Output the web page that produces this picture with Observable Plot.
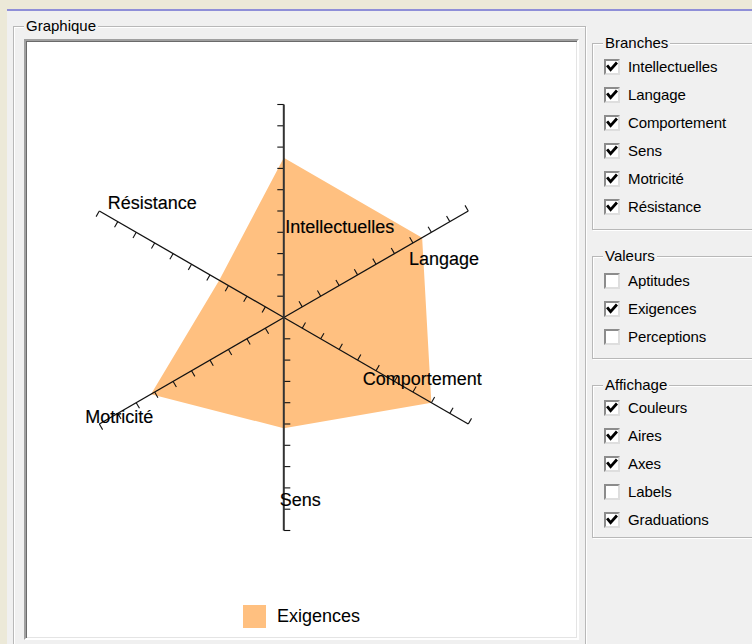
<!DOCTYPE html>
<html><head><meta charset="utf-8">
<script src="https://cdn.jsdelivr.net/npm/d3@7"></script>
<script src="https://cdn.jsdelivr.net/npm/@observablehq/plot@0.6"></script>
<style>
html,body{margin:0;padding:0;}
body{width:752px;height:644px;overflow:hidden;position:relative;background:#F0F0F0;font-family:"Liberation Sans",Arial,sans-serif;color:#000;}
.strip-left{position:absolute;left:0;top:0;width:7px;height:644px;background:#ECE9D8;}
.strip-top{position:absolute;left:0;top:0;width:752px;height:9px;background:#ECE9D8;}
.purple{position:absolute;left:7px;top:9px;width:745px;height:2px;background:#8F8FD8;}
.group{position:absolute;border:1px solid #b8b8b8;box-shadow:1px 1px 0 #fff, inset 1px 1px 0 #fff;}
.gtitle{position:absolute;top:-10px;left:10px;padding:0 2px;background:#F0F0F0;font-size:15px;line-height:18px;white-space:nowrap;}
.row{position:absolute;left:0;height:18px;white-space:nowrap;}
.cb{position:absolute;left:11px;top:1px;width:12px;height:12px;background:#fff;border-style:solid;border-width:2px;border-color:#8c8c8c #dedede #dedede #8c8c8c;}
.cb svg{position:absolute;left:0;top:0;}
.lbl{position:absolute;left:35px;top:0;font-size:15px;line-height:18px;letter-spacing:-0.1px;}
#white{position:absolute;left:24px;top:39px;width:551px;height:597px;background:#fff;border-style:solid;border-width:2px;border-color:#a0a0a0 #fff #fff #a0a0a0;box-shadow:inset 1px 1px 0 #6a6a6a, inset -1px -1px 0 #e4e4e4;}
#chart{position:absolute;left:0;top:0;}
#legend{position:absolute;left:217px;top:564px;height:23px;white-space:nowrap;}
#legend .sw{position:absolute;left:0;top:0;width:23px;height:23px;}
#legend .tx{position:absolute;left:34px;top:0;font-size:18px;line-height:23px;}
</style>
</head><body>
<div class="strip-top"></div>
<div class="strip-left"></div>
<div class="purple"></div>
<div class="group" style="left:13px;top:26px;width:571px;height:640px;"><div class="gtitle">Graphique</div></div>
<div id="white"><div id="chart"></div><div id="legend"></div></div>
<div id="panel"></div>
<script>
// ---- chart data ----
const branches = ["Intellectuelles", "Langage", "Comportement", "Sens", "Motricité", "Résistance"];
const exigences = [7.5, 7.5, 8, 5.2, 7.2, 3.5];
const serieName = "Exigences";
const graduations = [1, 2, 3, 4, 5, 6, 7, 8, 9, 10];
const maxValue = 10;

// ---- styling / layout (not data) ----
const fillColor = "#FFC080";
const labelFont = "Liberation Sans, Arial, sans-serif";
const labelRadius = [4.25, 7, 4.5, 8.5, 10, 9];
const labelDx = [1.5, -4, -4, -4, -14, -10];
const labelDy = [0, 16.7, 14.3, 1.2, -7, -18.5];
const pxPerUnit = 21.3;
const tickLen = 6.5 / pxPerUnit;

const angle = i => (90 - 60 * i) * Math.PI / 180;
const polar = (r, i) => ({x: r * Math.cos(angle(i)), y: r * Math.sin(angle(i))});

const polygon = branches.map((b, i) => ({branch: b, ...polar(exigences[i], i)}));
const axes = branches.map((b, i) => {
  const e = polar(maxValue, i);
  return {branch: b, vertical: i % 3 === 0, x1: 0, y1: 0, x2: e.x, y2: e.y};
});
const ticks = [];
branches.forEach((b, i) => {
  const a = angle(i) + Math.PI / 2;
  graduations.forEach(k => {
    const p = polar(k, i);
    ticks.push({x1: p.x, y1: p.y, x2: p.x + tickLen * Math.cos(a), y2: p.y + tickLen * Math.sin(a)});
  });
});

const W = 551, H = 560;
const cx = 257.3, cy = 276, R = 213;
const labelMarks = branches.map((b, i) => {
  const p = polar(labelRadius[i], i);
  return Plot.text([{...p, t: b}], {x: "x", y: "y", text: "t", textAnchor: "start", dx: labelDx[i], dy: labelDy[i], fontSize: 18, fontFamily: labelFont, fill: "#000", stroke: "#000", strokeWidth: 0.15});
});

const chart = Plot.plot({
  width: W, height: H,
  marginLeft: cx - R, marginRight: W - (cx + R),
  marginTop: cy - R, marginBottom: H - (cy + R),
  x: {domain: [-maxValue, maxValue], axis: null},
  y: {domain: [-maxValue, maxValue], axis: null},
  style: {background: "transparent", overflow: "visible"},
  marks: [
    Plot.line(polygon, {x: "x", y: "y", curve: "linear-closed", fill: fillColor, stroke: "none"}),
    Plot.link(ticks, {x1: "x1", y1: "y1", x2: "x2", y2: "y2", stroke: "#111", strokeWidth: 1.1}),
    Plot.link(axes.filter(d => !d.vertical), {x1: "x1", y1: "y1", x2: "x2", y2: "y2", stroke: "#111", strokeWidth: 1.3}),
    Plot.link(axes.filter(d => d.vertical), {x1: "x1", y1: "y1", x2: "x2", y2: "y2", stroke: "#333", strokeWidth: 2}),
    ...labelMarks
  ]
});
document.getElementById("chart").appendChild(chart);

const lg = document.getElementById("legend");
lg.innerHTML = `<span class="sw" style="background:${fillColor}"></span><span class="tx">${serieName}</span>`;

// ---- right panel (UI controls) ----
const groups = [
  {title: "Branches", top: 43, bottom: 228, rows: branches.map(b => [b, true]), first: 67},
  {title: "Valeurs", top: 256, bottom: 357, rows: [["Aptitudes", false], ["Exigences", true], ["Perceptions", false]], first: 281},
  {title: "Affichage", top: 385, bottom: 536, rows: [["Couleurs", true], ["Aires", true], ["Axes", true], ["Labels", false], ["Graduations", true]], first: 408}
];
const panel = document.getElementById("panel");
const check = `<svg width="12" height="12" viewBox="0 0 12 12"><polyline points="2,5.5 4.6,8.6 10,2.6" fill="none" stroke="#000" stroke-width="2.8" stroke-linecap="square"/></svg>`;
groups.forEach(g => {
  const d = document.createElement("div");
  d.className = "group";
  d.style.left = "592px";
  d.style.top = g.top + "px";
  d.style.width = "200px";
  d.style.height = (g.bottom - g.top) + "px";
  let html = `<div class="gtitle">${g.title}</div>`;
  g.rows.forEach((r, j) => {
    const c = g.first + 28 * j - g.top - 1;
    html += `<div class="row" style="top:${c - 9}px"><span class="cb">${r[1] ? check : ""}</span><span class="lbl">${r[0]}</span></div>`;
  });
  d.innerHTML = html;
  panel.appendChild(d);
});
</script>
</body></html>
